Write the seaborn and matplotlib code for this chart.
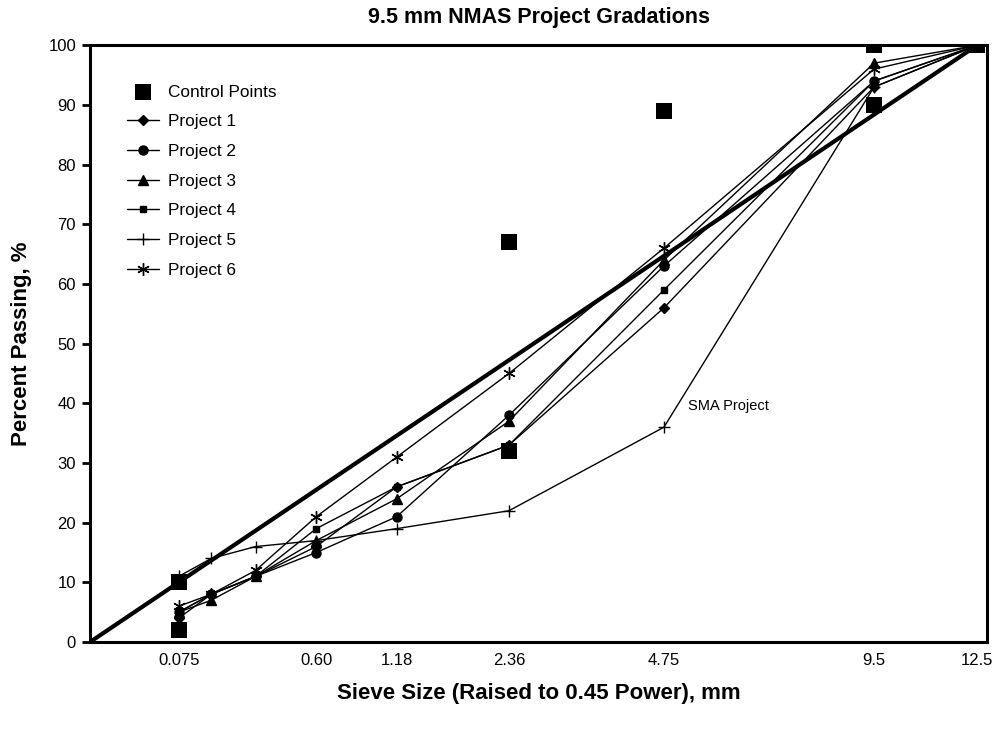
import numpy as np
import pandas as pd
import matplotlib
matplotlib.use("Agg")
import matplotlib.pyplot as plt
import seaborn as sns

# ---- data ----
sieves = [0.075, 0.15, 0.30, 0.60, 1.18, 2.36, 4.75, 9.5, 12.5]
tick_sieves = [0.075, 0.60, 1.18, 2.36, 4.75, 9.5, 12.5]
tick_labels = ["0.075", "0.60", "1.18", "2.36", "4.75", "9.5", "12.5"]

control_sieves = [0.075, 0.075, 2.36, 2.36, 4.75, 9.5, 9.5, 12.5]
control_values = [2, 10, 32, 67, 89, 90, 100, 100]

project1 = [4, 8, 11, 16, 26, 33, 56, 93, 100]
project2 = [5, 8, 11, 15, 21, 38, 63, 94, 100]
project3 = [5, 7, 11, 17, 24, 37, 64, 97, 100]
project4 = [5, 8, 11, 19, 26, 33, 59, 94, 100]
project5 = [11, 14, 16, 17, 19, 22, 36, 93, 100]
project6 = [6, 8, 12, 21, 31, 45, 66, 96, 100]

maxden_sieves = [0.0, 12.5]
maxden_values = [0, 100]

power = 0.45

projects = {
    "Project 1": (project1, "D", 5),
    "Project 2": (project2, "o", 6.5),
    "Project 3": (project3, "^", 7),
    "Project 4": (project4, "s", 5),
    "Project 5": (project5, "+", 9),
    "Project 6": (project6, (6, 2, 0), 9),
}

sns.set_theme(style="white")
plt.rcParams["font.family"] = ["Liberation Sans", "DejaVu Sans"]
plt.rcParams["text.color"] = "black"
plt.rcParams["axes.labelcolor"] = "black"
plt.rcParams["xtick.color"] = "black"
plt.rcParams["ytick.color"] = "black"

fig = plt.figure(figsize=(9.92, 7.30), dpi=100)
ax = fig.add_axes([0.0907, 0.1205, 0.9043, 0.8175])

xs = [s ** power for s in sieves]

for name, (vals, mk, ms) in projects.items():
    df = pd.DataFrame({"x": xs, "y": vals})
    sns.lineplot(data=df, x="x", y="y", ax=ax, color="black", linewidth=1.0,
                 marker=mk, markersize=ms, markeredgecolor="black",
                 markerfacecolor="black", markeredgewidth=1.0,
                 sort=False, estimator=None, label=name, zorder=3)

# maximum density line
dfm = pd.DataFrame({"x": [s ** power for s in maxden_sieves], "y": maxden_values})
sns.lineplot(data=dfm, x="x", y="y", ax=ax, color="black", linewidth=3.0,
             sort=False, estimator=None, zorder=4)

# control points
dfc = pd.DataFrame({"x": [s ** power for s in control_sieves], "y": control_values})
sns.scatterplot(data=dfc, x="x", y="y", ax=ax, marker="s", s=120, color="black",
                edgecolor="black", linewidth=0, zorder=5, label="Control Points")

ax.text(4.75 ** power + 0.085, 39.5, "SMA Project", fontsize=10.5, ha="left",
        va="center", color="black")

ax.set_xlim(0, 3.151)
ax.set_ylim(0, 100)
ax.set_yticks(range(0, 101, 10))
ax.set_xticks([s ** power for s in tick_sieves])
ax.set_xticklabels(tick_labels)
ax.tick_params(axis="x", length=0, pad=8, labelsize=12, colors="black")
ax.tick_params(axis="y", direction="out", length=6, width=2, pad=4,
               labelsize=12, colors="black", left=True)

for side in ["left", "bottom", "top", "right"]:
    ax.spines[side].set_visible(True)
    ax.spines[side].set_color("black")
    ax.spines[side].set_linewidth(2.2)

ax.set_xlabel("Sieve Size (Raised to 0.45 Power), mm", fontsize=16,
              fontweight="bold", labelpad=11, color="black")
ax.set_ylabel("Percent Passing, %", fontsize=16, fontweight="bold", labelpad=12,
              color="black")
ax.set_title("9.5 mm NMAS Project Gradations", fontsize=15.5, fontweight="bold",
             pad=16, color="black")

h, l = ax.get_legend_handles_labels()
order = ["Control Points"] + list(projects.keys())
hd = dict(zip(l, h))
leg = ax.legend([hd[k] for k in order], order, loc="upper left",
                bbox_to_anchor=(0.041, 0.934), frameon=False, fontsize=12.4,
                borderpad=0, borderaxespad=0, labelcolor="black",
                handlelength=1.9, handletextpad=0.47, labelspacing=0.85)

fig.savefig("out.png", dpi=100, facecolor="white")
